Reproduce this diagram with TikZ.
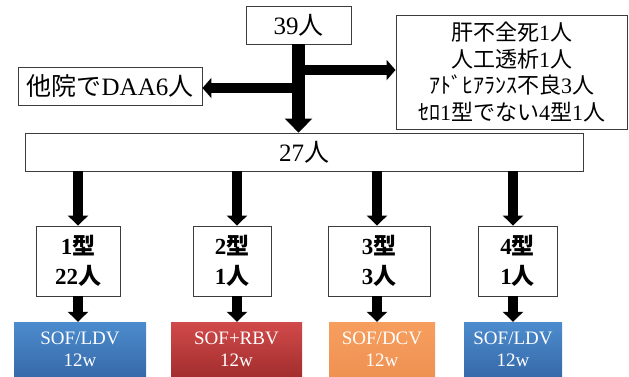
\documentclass[tikz,border=0pt]{standalone}
\usepackage{fontspec}
\setmainfont{Liberation Serif}
\newfontfamily\jp{Noto Sans CJK JP}
\usetikzlibrary{arrows.meta}
\newcommand\J[1]{{\jp #1}}
\definecolor{bluetop}{RGB}{76,140,206}
\definecolor{bluebot}{RGB}{55,106,170}
\definecolor{redtop}{RGB}{210,74,74}
\definecolor{redbot}{RGB}{163,46,46}
\definecolor{orgtop}{RGB}{247,158,94}
\definecolor{orgbot}{RGB}{238,146,82}
\definecolor{edge}{RGB}{60,60,60}
\begin{document}
\begin{tikzpicture}[x=1pt,y=-1pt,
  box/.style={draw=edge,line width=0.9pt,fill=white,inner sep=0pt,align=center},
  typebox/.style={box,minimum height=70pt,font=\fontsize{23}{30}\selectfont\bfseries},
  drug/.style={inner sep=0pt,align=center,text=white,minimum height=54pt,
    font=\fontsize{19}{22}\selectfont},
  bigarrow/.style={line width=13pt,-{Triangle[width=27pt,length=14pt]}},
  harrow/.style={line width=10pt,-{Triangle[width=20pt,length=9pt]}},
  varrow/.style={line width=10pt,-{Triangle[width=20pt,length=10pt]}}]
\useasboundingbox (0,0) rectangle (629,376);
% top boxes
\node[box,minimum width=105pt,minimum height=38pt,font=\fontsize{25}{30}\selectfont] (n39) at (298.5,25) {39\J{人}};
\node[box,minimum width=231pt,minimum height=114pt,font=\fontsize{22}{26.7}\selectfont] (rbox) at (511.5,72)
  {\J{肝不全死}1\J{人}\\ \J{人工透析}1\J{人}\\ \J{ｱﾄﾞﾋｱﾗﾝｽ不良}3\J{人}\\ \J{ｾﾛ}1\J{型でない}4\J{型}1\J{人}};
\node[box,minimum width=184pt,minimum height=38pt,font=\fontsize{25}{30}\selectfont] (lbox) at (110,86) {\J{他院で}DAA6\J{人}};
\node[box,minimum width=558pt,minimum height=38pt,font=\fontsize{25}{30}\selectfont] (n27) at (304,152) {27\J{人}};
% arrows from top
\coordinate (jr) at (298.5,70);
\coordinate (jl) at (298.5,88);
\draw[harrow] (jr) -- (jr -| rbox.west);
\draw[harrow] (jl) -- (jl -| lbox.east);
\draw[bigarrow] (n39.south) -- (n39.south |- n27.north);
% type boxes
\node[typebox,minimum width=84pt] (t1) at (78,261) {1\J{型}\\22\J{人}};
\node[typebox,minimum width=78pt] (t2) at (232,261) {2\J{型}\\1\J{人}};
\node[typebox,minimum width=102pt] (t3) at (379,261) {3\J{型}\\3\J{人}};
\node[typebox,minimum width=79pt] (t4) at (517.5,261) {4\J{型}\\1\J{人}};
% drug boxes
\node[drug,minimum width=132pt,top color=bluetop,bottom color=bluebot] (c1) at (80,349) {SOF/LDV\\12w};
\node[drug,minimum width=131pt,top color=redtop,bottom color=redbot] (c2) at (236.5,349) {SOF+RBV\\12w};
\node[drug,minimum width=106pt,top color=orgtop,bottom color=orgbot] (c3) at (382,349) {SOF/DCV\\12w};
\node[drug,minimum width=98pt,top color=bluetop,bottom color=bluebot] (c4) at (513,349) {SOF/LDV\\12w};
% arrows 27 -> types
\draw[varrow] (t1.north |- n27.south) -- (t1.north);
\draw[varrow] ([xshift=5pt]t2.north |- n27.south) -- ([xshift=5pt]t2.north);
\draw[varrow] ([xshift=-2pt]t3.north |- n27.south) -- ([xshift=-2pt]t3.north);
\draw[varrow] ([xshift=-4.5pt]t4.north |- n27.south) -- ([xshift=-4.5pt]t4.north);
% arrows types -> drugs
\draw[varrow] (t1.south) -- (t1.south |- c1.north);
\draw[varrow] ([xshift=5pt]t2.south) -- ([xshift=5pt]t2.south |- c2.north);
\draw[varrow] ([xshift=-2pt]t3.south) -- ([xshift=-2pt]t3.south |- c3.north);
\draw[varrow] ([xshift=-4.5pt]t4.south) -- ([xshift=-4.5pt]t4.south |- c4.north);
\end{tikzpicture}
\end{document}
